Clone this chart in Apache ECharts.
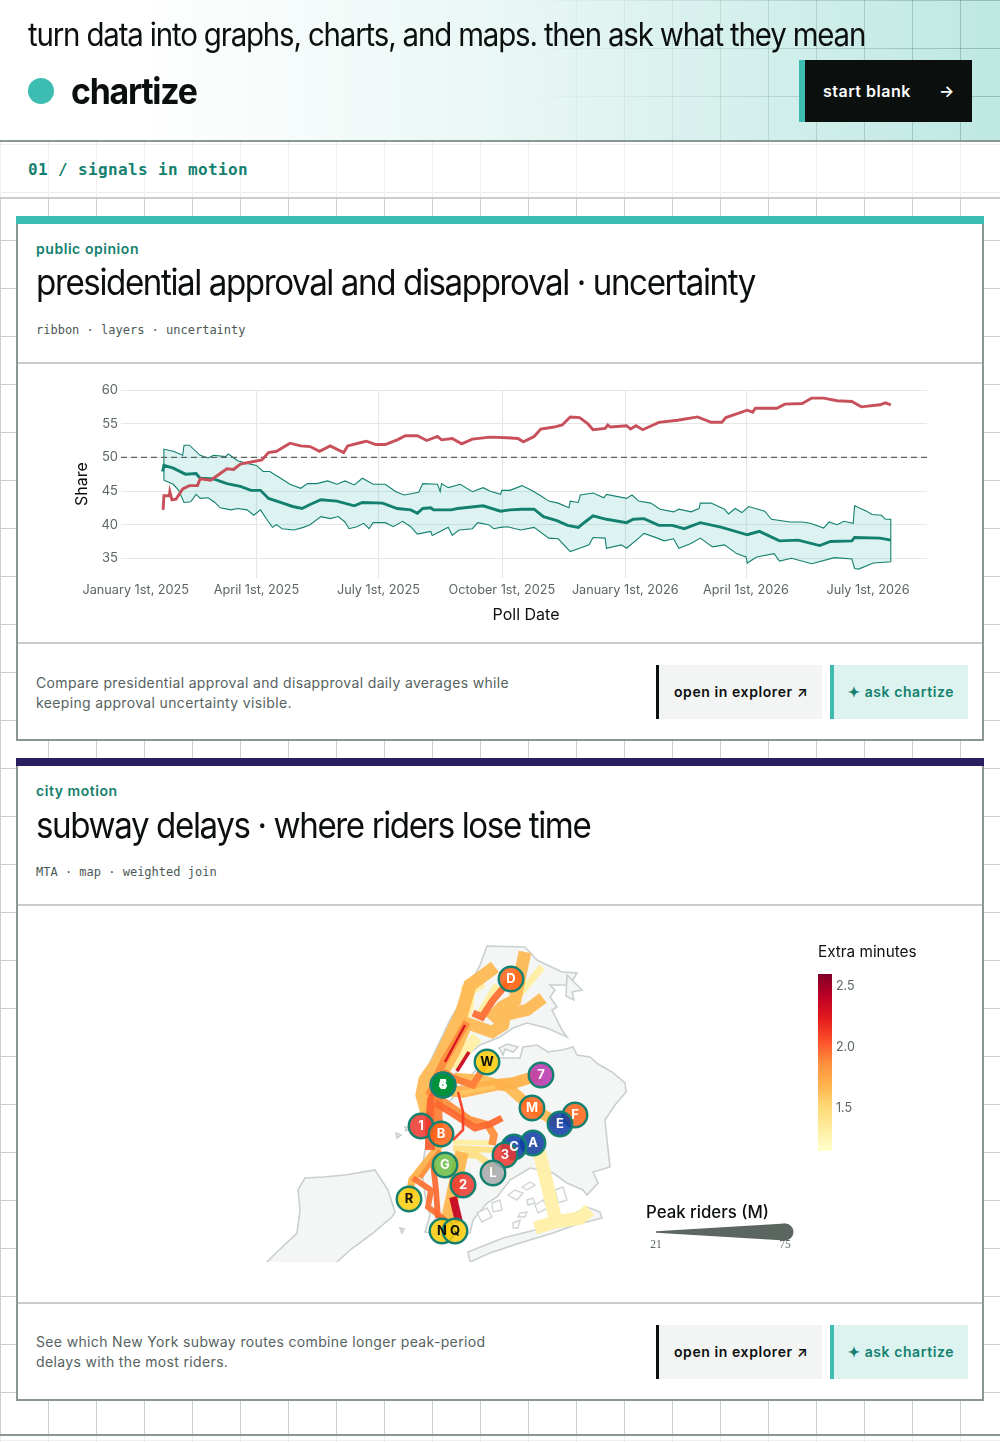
<!DOCTYPE html>
<html lang="en"><head><meta charset="utf-8"><title>chartize</title>
<script src="https://cdn.jsdelivr.net/npm/echarts@6/dist/echarts.min.js"></script>
<style>
html,body{margin:0;padding:0;background:#fff}
body{position:relative;width:1000px;height:1442px;overflow:hidden;font-family:Inter,sans-serif;color:#0b0f0e}
.abs{position:absolute}
.grid{position:absolute;left:0;width:1000px;background-image:linear-gradient(to right,var(--g) 1.5px,transparent 1.5px),linear-gradient(to bottom,var(--g) 1.5px,transparent 1.5px);background-size:48px 48px}
.hdr{left:0;top:0;width:1000px;height:140px;background:linear-gradient(90deg,#fff 14%,#e9f7f5 50%,#bfe8e3 100%)}
.hline{position:absolute;left:0;width:1000px}
.card{position:absolute;left:16px;width:968px;background:#fff;box-sizing:border-box;border:2px solid #8a9793;border-top:0}
.bar{position:absolute;left:16px;width:968px;height:8px}
.sep{position:absolute;left:18px;width:964px;height:2px;background:#c6cdcb}
.kick{position:absolute;left:36px;font-size:14px;font-weight:600;color:#14806f;line-height:18px;white-space:nowrap;letter-spacing:.55px}
.ttl{position:absolute;left:36px;font-size:36px;font-weight:400;letter-spacing:-1.52px;line-height:44px;white-space:nowrap;color:#0b0f0e;transform:scaleX(.92);transform-origin:left center}
.meta{position:absolute;left:36px;font-family:"DejaVu Sans Mono",monospace;font-size:12px;color:#4c5855;line-height:16px;white-space:pre}
.desc{position:absolute;left:36px;font-size:14px;line-height:20px;color:#56625f;letter-spacing:.35px;white-space:nowrap}
.btn{position:absolute;box-sizing:border-box;height:54px;line-height:54px;font-size:14px;font-weight:600;white-space:nowrap;letter-spacing:.58px}
.open{left:656px;width:166px;background:#f3f5f4;border-left:3px solid #0b0f0e;padding-left:15px;color:#0b0f0e}
.ask{left:830px;width:138px;background:#dcf3ef;border-left:4px solid #3dbdb1;padding-left:14px;color:#14806f}
.chart{position:absolute}
</style></head><body>
<div class="grid" style="--g:#efefef;top:0;height:1442px"></div>
<div class="abs hdr"></div>
<div class="grid" style="--g:rgba(70,110,105,.36);top:0;height:140px;-webkit-mask-image:linear-gradient(90deg,transparent 52%,#000 100%);mask-image:linear-gradient(90deg,transparent 52%,#000 100%)"></div>
<div class="hline" style="top:140px;height:2px;background:#8a9793"></div>
<div class="grid" style="--g:#c8cfcd;top:199px;height:1235px;background-position:0 -7px"></div>
<div class="hline" style="top:197px;height:2px;background:#c8cfcd"></div>
<div class="hline" style="top:1434px;height:2px;background:#8a9793"></div>

<div class="abs" style="left:28px;top:15px;font-size:32px;letter-spacing:-1.26px;line-height:40px;white-space:nowrap;transform:scaleX(.92);transform-origin:left center">turn data into graphs, charts, and maps. then ask what they mean</div>
<div class="abs" style="left:28px;top:78px;width:26px;height:26px;border-radius:50%;background:#3dbdb1"></div>
<div class="abs" style="left:70.5px;top:68px;font-size:36px;font-weight:700;letter-spacing:-1.3px;line-height:46px;transform:scaleX(.94);transform-origin:left center">chartize</div>
<div class="abs" style="left:799px;top:60px;width:173px;height:62px;box-sizing:border-box;background:#0b0f0e;border-left:6px solid #3dbdb1;color:#fff;font-size:16px;font-weight:600;line-height:62px;padding-left:18px;letter-spacing:.5px;white-space:nowrap">start blank<span class="abs" style="left:134px;top:0">→</span></div>
<div class="abs" style="left:28px;top:160px;font-family:'DejaVu Sans Mono',monospace;font-weight:700;font-size:16px;letter-spacing:.37px;color:#14806f;line-height:20px;white-space:pre">01 / signals in motion</div>

<div class="bar" style="top:216px;background:#3dbdb1"></div>
<div class="card" style="top:224px;height:517px"></div>
<div class="sep" style="top:362px"></div><div class="sep" style="top:642px"></div>
<div class="kick" style="top:240px">public opinion</div>
<div class="ttl" style="top:260px">presidential approval and disapproval · uncertainty</div>
<div class="meta" style="top:322px">ribbon · layers · uncertainty</div>
<div class="chart" id="approval" style="left:18px;top:364px;width:964px;height:278px"></div>
<div class="desc" style="top:673px">Compare presidential approval and disapproval daily averages while<br>keeping approval uncertainty visible.</div>
<div class="btn open" style="top:665px">open in explorer ↗</div>
<div class="btn ask" style="top:665px">✦ ask chartize</div>

<div class="bar" style="top:758px;background:#2a1f5f"></div>
<div class="card" style="top:766px;height:635px"></div>
<div class="sep" style="top:904px"></div><div class="sep" style="top:1302px"></div>
<div class="kick" style="top:782px">city motion</div>
<div class="ttl" style="top:803px">subway delays · where riders lose time</div>
<div class="meta" style="top:864px">MTA · map · weighted join</div>
<div class="chart" id="subway" style="left:18px;top:907px;width:964px;height:355px"></div>
<div class="desc" style="top:1332px">See which New York subway routes combine longer peak-period<br>delays with the most riders.</div>
<div class="btn open" style="top:1325px">open in explorer ↗</div>
<div class="btn ask" style="top:1325px">✦ ask chartize</div>

<script>
// ---------- Chart 1 data: [days since 2025-01-01, share %] ----------
const xTickDays = [0, 90, 181, 273, 365, 455, 546];
const xTickLabels = ['January 1st, 2025', 'April 1st, 2025', 'July 1st, 2025', 'October 1st, 2025', 'January 1st, 2026', 'April 1st, 2026', 'July 1st, 2026'];
const yTicks = [35, 40, 45, 50, 55, 60];
const approvalUpper = [[21,51.2],[28,50.9],[35,50.3],[36,51.8],[40,51.8],[48,50.3],[54,49.9],[58,50.3],[67,50.1],[69,50.5],[76,49.5],[83,49.1],[90,48.8],[95,47.9],[100,47.9],[108,46.9],[115,46.0],[123,45.4],[128,46.1],[135,46.1],[143,46.5],[150,46.0],[156,46.5],[163,45.9],[169,46.9],[177,46.0],[186,46.0],[194,44.9],[200,44.4],[211,44.8],[214,46.1],[225,46.0],[227,44.9],[228,46.1],[233,45.5],[242,46.0],[251,44.9],[259,45.5],[264,45.0],[272,44.5],[273,45.1],[279,45.1],[288,45.8],[295,45.1],[302,44.3],[308,43.5],[315,43.2],[323,42.5],[324,43.5],[330,43.3],[331.5,44.4],[341,44.7],[349,44.0],[351,44.5],[366,43.9],[370,44.4],[375,43.5],[384,43.2],[391,42.3],[401,41.9],[405,42.3],[414,41.9],[420,42.4],[421,43.2],[429,43.2],[439,42.3],[442,41.6],[447,42.4],[452,41.8],[457,42.7],[469,42.0],[474,40.8],[488,40.4],[497,40.4],[503,40.2],[513,39.5],[517,40.4],[523,40.0],[528,40.5],[535,40.2],[536,42.8],[545,42.0],[549,41.5],[556,41.4],[559,40.8],[563,40.8]];
const approvalLower = [[21,46.6],[28,46.0],[32,45.1],[36,43.3],[41,43.4],[45,44.5],[48,43.9],[54,44.0],[59,43.3],[63,42.5],[71,42.2],[76,42.4],[83,42.2],[88,41.4],[93,42.2],[98,40.7],[102,39.6],[105,40.0],[109,39.4],[118,39.2],[125,39.6],[130,40.0],[138,41.2],[145,40.9],[151,41.2],[156,40.4],[159,39.4],[165,39.7],[170,40.2],[174,39.4],[177,40.3],[186,40.3],[192,39.7],[199,40.5],[205,39.7],[210,38.6],[220,39.0],[221,38.4],[227,39.0],[233,39.6],[236,38.4],[241,39.2],[251,39.4],[255,40.3],[263,40.0],[267,39.4],[272,39.6],[277,39.7],[287,39.2],[297,39.6],[308,38.0],[315,37.9],[324,36.0],[331,36.5],[338,37.0],[341,38.1],[350,38.0],[351,36.5],[362,37.0],[366,36.5],[375,38.0],[379,38.7],[389,38.0],[394,37.6],[401,37.9],[405,36.5],[414,37.2],[421,38.0],[430,36.7],[439,37.0],[448,35.7],[455,35.2],[456,34.3],[463,35.2],[476,35.7],[480,34.6],[489,35.0],[504,34.2],[521,35.1],[534,34.9],[536,33.5],[539,33.4],[550,34.3],[563,34.5]];
const approvalMean = [[20,47.9],[21,48.8],[28,48.4],[37,47.5],[45,47.6],[48,46.9],[58,46.8],[68,46.1],[78,45.7],[86,45.1],[93,45.1],[99,43.9],[108,43.3],[117,42.7],[124,42.4],[130,43.0],[138,43.7],[150,43.5],[163,42.8],[169,43.3],[184,43.2],[195,42.4],[205,42.2],[210,41.7],[214,42.4],[220,42.5],[222,42.2],[235,42.2],[240,42.4],[259,42.8],[272,42.0],[279,42.2],[288,42.3],[297,42.3],[304,41.2],[314,40.6],[322,39.9],[330,39.6],[335,40.4],[341,41.3],[351,40.8],[366,40.3],[371,40.8],[379,40.9],[390,39.9],[400,39.9],[409,39.4],[421,40.3],[437,39.6],[456,38.5],[465,39.0],[480,37.6],[494,37.7],[510,36.9],[518,37.5],[534,37.6],[536,38.1],[555,38.0],[563,37.7]];
const disapprovalMean = [[20.4,42.2],[21,44.3],[25,44.3],[25.4,44.9],[27,43.7],[30,43.8],[35,45.3],[40,45.8],[46,45.8],[48,46.8],[56,46.6],[63,47.6],[68,48.3],[73,48.2],[78,49.0],[86,49.3],[94,49.6],[99,50.7],[105,50.9],[115,52.1],[123,51.7],[130,51.6],[137,50.9],[145,51.7],[155,50.7],[158,51.7],[168,52.2],[172,52.4],[179,51.9],[186,51.9],[195,52.6],[201,53.2],[210,53.2],[217,52.5],[225,53.1],[228,52.6],[236,52.8],[243,52.0],[251,52.7],[264,53.0],[277,52.9],[285,52.8],[289,52.3],[297,53.1],[302,54.2],[312,54.5],[318,54.8],[324,56.0],[331,55.9],[337,55.0],[341,54.1],[350,54.3],[352,54.8],[354,54.5],[366,54.7],[369,54.2],[373,54.7],[378,54.1],[390,55.2],[404,55.5],[419,56.0],[429,55.2],[437,55.2],[440,55.9],[456,57.0],[460,56.7],[462,57.3],[478,57.3],[484,57.9],[497,58.0],[504,58.8],[513,58.8],[523,58.4],[534,58.3],[541,57.5],[555,57.8],[559,58.1],[563,57.8]];
const referenceLevel = 50;
const dayDomain = [-11, 590];
const shareDomain = [32.08, 60];

// ---------- Chart 2 data ----------
const routeNames = ['A','A','A','A','C','C','C','L','L','5','6','1','E','7','N','J','R','C','D','W','B','M','J','G','4','6','Q','N','D','R'];
const routeMinutes = [1.30,1.30,1.30,1.30,1.33,1.33,1.33,1.45,1.45,1.66,1.66,1.66,1.66,1.70,1.68,1.60,1.70,1.87,1.96,1.92,2.0,1.9,1.98,2.1,2.35,2.3,2.38,1.95,1.98,1.87];
const routeRiders = [62,62,56,64,40,40,34,36,40,60,58,62,52,56,62,30,42,42,40,40,50,46,40,25,28,24,43,36,36,32];
const routePaths = [
 [[-73.8485,40.6545],[-73.838,40.6389],[-73.8155,40.5583]],
 [[-73.8455,40.544],[-73.8155,40.5518],[-73.778,40.557],[-73.763,40.5674]],
 [[-73.9325,40.7923],[-73.97,40.7533]],
 [[-73.925,40.8651],[-73.946,40.8534],[-73.9475,40.8313],[-73.9535,40.8196]],
 [[-73.835,40.8833],[-73.8755,40.8404]],
 [[-73.9025,40.8599],[-73.928,40.8235]],
 [[-73.9685,40.6558],[-73.91,40.6545]],
 [[-73.9685,40.648],[-73.9085,40.6454]],
 [[-73.9535,40.6389],[-73.9325,40.6389],[-73.913,40.6259],[-73.9085,40.6155]],
 [[-73.8605,40.9028],[-73.8755,40.8404],[-73.895,40.8313],[-73.913,40.8144]],
 [[-73.8335,40.843],[-73.8575,40.8274],[-73.8905,40.8209],[-73.8935,40.8079],[-73.91,40.7988],[-73.9475,40.8105],[-73.9655,40.7754],[-73.988,40.739],[-74.003,40.7104],[-74.006,40.6909]],
 [[-73.9055,40.8833],[-73.928,40.869],[-73.943,40.8599],[-73.955,40.8248],[-73.9775,40.7845],[-73.9925,40.7585],[-74.0105,40.7364],[-74.015,40.7169],[-74.0075,40.6935]],
 [[-73.808,40.6792],[-73.85,40.7],[-73.886,40.7273],[-73.928,40.7364],[-73.9655,40.739]],
 [[-73.838,40.7429],[-73.8785,40.7325],[-73.9055,40.7299],[-73.9535,40.7208],[-73.9805,40.7234]],
 [[-73.955,40.6428],[-73.979,40.5453]],
 [[-73.9655,40.7182],[-73.9055,40.7273]],
 [[-74.0345,40.5817],[-74.03,40.6064],[-74,40.6389],[-73.988,40.6519]],
 [[-74.0075,40.7234],[-73.943,40.6844],[-73.916,40.6779],[-73.907,40.6649],[-73.91,40.6519]],
 [[-73.8815,40.8677],[-73.9085,40.8404],[-73.925,40.8183],[-73.9385,40.8235]],
 [[-73.9175,40.7598],[-73.9385,40.7299],[-73.961,40.7364],[-73.9835,40.7468]],
 [[-73.988,40.7299],[-74,40.7104],[-74.003,40.6779],[-74.003,40.6454]],
 [[-73.991,40.7169],[-73.991,40.6909],[-73.988,40.6584]],
 [[-73.9955,40.7065],[-73.97,40.6935],[-73.9355,40.674],[-73.913,40.6792],[-73.895,40.687]],
 [[-73.961,40.7208],[-73.9535,40.6948],[-73.9535,40.6714],[-73.9685,40.6584]],
 [[-73.9445,40.7728],[-73.9625,40.7481]],
 [[-73.9505,40.8079],[-73.9805,40.7598]],
 [[-73.9685,40.5843],[-73.9595,40.5518]],
 [[-74.0285,40.609],[-74.0015,40.5934],[-74.006,40.5713],[-73.9805,40.5544]],
 [[-73.9985,40.6285],[-73.994,40.5934],[-73.991,40.557]],
 [[-74.018,40.609],[-73.988,40.6454]]
];
// Upper-Manhattan trunk drawn after the light routes
const trunkPath = [[-73.9475,40.8118],[-73.9835,40.7585],[-73.994,40.739]];
const trunkMinutes = 1.88, trunkRiders = 42;

const badgeNames = ['D','W','7','4','5','6','M','F','E','1','B','A','C','3','L','G','2','R','N','Q'];
const badgeCoords = [[-73.8815,40.8677],[-73.9175,40.7598],[-73.8365,40.7429],[-73.9835,40.7299],[-73.9835,40.7299],[-73.9835,40.7299],[-73.85,40.7],[-73.7855,40.6909],[-73.808,40.6792],[-74.0165,40.6766],[-73.9865,40.6662],[-73.8485,40.6545],[-73.877,40.6493],[-73.8905,40.6389],[-73.9085,40.6155],[-73.9805,40.6259],[-73.9535,40.5999],[-74.0345,40.5817],[-73.985,40.5401],[-73.9655,40.5401]];
const badgeColors = ['#ff6319','#fccc0a','#b933ad','#00933c','#00933c','#00933c','#ff6319','#ff6319','#0f3ba8','#ee352e','#ff6319','#0f3ba8','#0f3ba8','#ee352e','#a7a9ac','#6cbe45','#ee352e','#fccc0a','#fccc0a','#fccc0a'];
const darkLabelBadges = ['W','R','N','Q'];

const land = {
 'Staten Island': [[-74.255,40.4894],[-74.2475,40.4998],[-74.2325,40.5128],[-74.2025,40.5375],[-74.198,40.5674],[-74.201,40.5934],[-74.1905,40.609],[-74.1635,40.6103],[-74.1305,40.6129],[-74.0855,40.6194],[-74.066,40.5934],[-74.0555,40.5648],[-74.06,40.5583],[-74.0885,40.5375],[-74.123,40.5154],[-74.1425,40.4998],[-74.153,40.4894]],
 'Bronx and Manhattan': [[-73.9175,40.9106],[-73.8605,40.9093],[-73.8425,40.8924],[-73.805,40.8768],[-73.7825,40.8755],[-73.793,40.8599],[-73.823,40.8599],[-73.8155,40.8534],[-73.823,40.8443],[-73.8125,40.8313],[-73.82,40.8274],[-73.805,40.8014],[-73.7975,40.7923],[-73.8275,40.804],[-73.8575,40.8105],[-73.8785,40.804],[-73.898,40.7923],[-73.928,40.7819],[-73.955,40.7624],[-73.976,40.7234],[-74,40.7143],[-74.0135,40.739],[-74.0015,40.7624],[-73.973,40.8144],[-73.9535,40.843],[-73.928,40.8859]],
 'Brooklyn and Queens': [[-73.931,40.752],[-73.913,40.765],[-73.8905,40.765],[-73.868,40.765],[-73.8635,40.7793],[-73.8425,40.7819],[-73.826,40.7728],[-73.805,40.7754],[-73.7885,40.7793],[-73.7825,40.7689],[-73.763,40.7663],[-73.751,40.7572],[-73.73,40.7468],[-73.7105,40.7325],[-73.709,40.7208],[-73.7255,40.7039],[-73.7405,40.6844],[-73.7375,40.6584],[-73.733,40.6233],[-73.7585,40.6168],[-73.751,40.6025],[-73.7675,40.5869],[-73.7735,40.5934],[-73.7975,40.6025],[-73.8185,40.6155],[-73.853,40.622],[-73.883,40.6064],[-73.9025,40.5843],[-73.9175,40.5765],[-73.9385,40.5544],[-73.943,40.5375],[-73.9805,40.5336],[-74.0105,40.5388],[-74.003,40.5609],[-74.0105,40.5869],[-74.015,40.6194],[-74.0105,40.6454],[-74.003,40.6779],[-73.9775,40.7039],[-73.955,40.7299]],
 'Rockaway': [[-73.943,40.4998],[-73.946,40.5128],[-73.8935,40.531],[-73.8455,40.5414],[-73.8005,40.557],[-73.7675,40.5713],[-73.748,40.5648],[-73.745,40.557],[-73.7855,40.5479],[-73.8185,40.5375],[-73.868,40.5245],[-73.913,40.5115]],
 'Bay 1': [[-73.886,40.5869],[-73.8755,40.5934],[-73.8635,40.5895],[-73.8725,40.5804]],
 'Bay 2': [[-73.865,40.5973],[-73.853,40.6038],[-73.8455,40.5999],[-73.8575,40.5934]],
 'Bay 3': [[-73.868,40.5635],[-73.8575,40.5648],[-73.8605,40.5583],[-73.871,40.5583]],
 'Bay 4': [[-73.8455,40.5739],[-73.8335,40.5804],[-73.826,40.57],[-73.841,40.5635]],
 'Bay 5': [[-73.8785,40.5505],[-73.868,40.5544],[-73.871,40.544],[-73.8785,40.544]],
 'Bay 6': [[-73.8155,40.5934],[-73.8035,40.5973],[-73.7975,40.5804],[-73.811,40.5765]],
 'Bay 7': [[-73.8575,40.5804],[-73.8485,40.583],[-73.8455,40.5765],[-73.856,40.5739]],
 'Bay 8': [[-73.9325,40.5635],[-73.9175,40.57],[-73.91,40.5583],[-73.925,40.5518]],
 'Bay 9': [[-73.91,40.5765],[-73.898,40.5804],[-73.895,40.5674],[-73.9085,40.5648]],
 'Liberty': [[-74.054,40.6675],[-74.0465,40.6649],[-74.0525,40.661]],
 'Ellis': [[-74.0405,40.6753],[-74.033,40.674],[-74.039,40.6701]],
 'Hoffman': [[-74.048,40.544],[-74.042,40.5427],[-74.045,40.5375]],
 'City Island': [[-73.7975,40.8729],[-73.7825,40.8599],[-73.775,40.8534],[-73.79,40.8508],[-73.787,40.8404],[-73.799,40.8456]],
 'Rikers': [[-73.8995,40.778],[-73.8875,40.7832],[-73.871,40.7793],[-73.8785,40.7728],[-73.8905,40.7767],[-73.8935,40.7689]]
};
const bayIslands = ['Bay 1','Bay 2','Bay 3','Bay 4','Bay 5','Bay 6','Bay 7','Bay 8','Bay 9'];
const mapBounds = [[-74.2475,40.9106],[-73.709,40.4998]];

const minutesColorStops = ['#ffffcc','#ffeda0','#fed976','#feb24c','#fd8d3c','#fc4e2a','#e31a1c','#bd0026','#800026'];
const minutesDomain = [1.15, 2.6];
const minutesTicks = [1.5, 2.0, 2.5];
const ridersDomain = [21, 75];

// ---------- Helpers ----------
const inkGray = '#5b6663', font = 'Inter, sans-serif';
const ridersWidth = r => 1.5 + (r - ridersDomain[0]) / (ridersDomain[1] - ridersDomain[0]) * 15.5;
const minutesColor = m => echarts.color.lerp((m - minutesDomain[0]) / (minutesDomain[1] - minutesDomain[0]), minutesColorStops);

// ---------- Chart 1 ----------
const bandPts = approvalUpper.concat(approvalLower.slice().reverse());
const c1 = echarts.init(document.getElementById('approval'), null, {renderer: 'canvas'});
c1.setOption({
  animation: false,
  textStyle: {fontFamily: font},
  grid: {left: 103, top: 26, width: 806, height: 188},
  xAxis: {
    type: 'value', min: dayDomain[0], max: dayDomain[1],
    name: 'Poll Date', nameLocation: 'middle', nameGap: 29,
    nameTextStyle: {color: '#0b0f0e', fontSize: 16, fontFamily: font, padding: [0, 0, 0, 4]},
    axisLine: {show: false},
    axisTick: {show: false, customValues: xTickDays},
    splitLine: {show: true, showMinLine: false, showMaxLine: false, lineStyle: {color: '#e3e8e6', width: 1.2}},
    axisLabel: {
      customValues: xTickDays, color: inkGray, fontSize: 12.7, fontFamily: font, margin: 6, hideOverlap: false,
      formatter: v => xTickLabels[xTickDays.indexOf(+v)] || ''
    }
  },
  yAxis: {
    type: 'value', min: shareDomain[0], max: shareDomain[1],
    name: 'Share', nameLocation: 'middle', nameGap: 30,
    nameTextStyle: {color: '#0b0f0e', fontSize: 16, fontFamily: font},
    axisLine: {show: false},
    axisTick: {show: false, customValues: yTicks},
    splitLine: {show: true, lineStyle: {color: '#e3e8e6', width: 1.2}},
    axisLabel: {customValues: yTicks, color: inkGray, fontSize: 13, fontFamily: font, margin: 3, padding: [2, 0, 0, 0]}
  },
  series: [
    {
      type: 'custom', name: 'Approval interval', data: bandPts, encode: {x: 0, y: 1}, clip: false, z: 2,
      renderItem: (params, api) => {
        if (params.dataIndex !== 0) return null;
        return {type: 'polygon', shape: {points: bandPts.map(p => api.coord(p))},
          style: {fill: 'rgba(61,189,177,0.18)', stroke: '#14806f', lineWidth: 1.1, lineJoin: 'miter'}};
      }
    },
    {type: 'line', name: 'Reference', data: [[dayDomain[0], referenceLevel], [dayDomain[1], referenceLevel]], symbol: 'none', z: 3,
      lineStyle: {color: '#5b6663', width: 1.1, type: [6, 4]}},
    {type: 'line', name: 'Approval', data: approvalMean, symbol: 'none', z: 4, lineStyle: {color: '#14806f', width: 2.9, join: 'miter'}},
    {type: 'line', name: 'Disapproval', data: disapprovalMean, symbol: 'none', z: 4, lineStyle: {color: '#c8505a', width: 2.9, join: 'miter'}}
  ]
});

// ---------- Chart 2 ----------
echarts.registerMap('nyc', {type: 'FeatureCollection', features: Object.keys(land).map(name => ({
  type: 'Feature', properties: {name}, geometry: {type: 'Polygon', coordinates: [land[name].concat([land[name][0]])]}
}))});
const routeItem = (path, m, r, name) => ({name, coords: path, lineStyle: {color: minutesColor(m), width: ridersWidth(r), opacity: 0.95, cap: 'butt', join: 'miter'}});
const routeData = routePaths.map((p, i) => routeItem(p, routeMinutes[i], routeRiders[i], routeNames[i]));
routeData.splice(17, 0, routeItem(trunkPath, trunkMinutes, trunkRiders, 'D'));

const c2 = echarts.init(document.getElementById('subway'), null, {renderer: 'canvas'});
c2.setOption({
  animation: false,
  textStyle: {fontFamily: font},
  title: [
    {text: 'Extra minutes', left: 800, top: 38, padding: 0, textStyle: {fontSize: 15.3, fontWeight: 400, color: '#0b0f0e', fontFamily: font}},
    {text: 'Peak riders (M)', left: 628, top: 297, padding: 0, textStyle: {fontSize: 16.8, fontWeight: 500, color: '#0b0f0e', fontFamily: font}}
  ],
  geo: {
    map: 'nyc', roam: false, silent: true, aspectScale: 0.0013 / 0.0015,
    boundingCoords: mapBounds, left: 249, top: 39, width: 359, height: 316,
    label: {show: false},
    itemStyle: {areaColor: '#f4f6f5', borderColor: '#c9d0ce', borderWidth: 1.6},
    regions: bayIslands.map(name => ({name, itemStyle: {areaColor: '#fcfdfc', borderColor: '#d0d6d4', borderWidth: 1.4}})),
    emphasis: {disabled: true}
  },
  grid: [
    {left: 800, top: 67, width: 14, height: 177},
    {left: 638, top: 320, width: 129, height: 10}
  ],
  xAxis: [
    {gridIndex: 0, type: 'value', min: 0, max: 1, show: false},
    {gridIndex: 1, type: 'value', min: ridersDomain[0], max: ridersDomain[1],
      axisLine: {show: false}, splitLine: {show: false}, axisTick: {show: false, customValues: ridersDomain},
      axisLabel: {customValues: ridersDomain, color: inkGray, fontSize: 11.5, fontFamily: '"Liberation Serif", serif', margin: 2, hideOverlap: false}}
  ],
  yAxis: [
    {gridIndex: 0, type: 'value', min: minutesDomain[0], max: minutesDomain[1], position: 'right',
      axisLine: {show: false}, splitLine: {show: false}, axisTick: {show: false, customValues: minutesTicks},
      axisLabel: {customValues: minutesTicks, color: inkGray, fontSize: 12.5, fontFamily: font, margin: 4, padding: [2, 0, 0, 0], formatter: v => (+v).toFixed(1)}},
    {gridIndex: 1, type: 'value', min: 0, max: 1, show: false}
  ],
  series: [
    {type: 'lines', coordinateSystem: 'geo', polyline: true, silent: true, z: 3, lineStyle: {opacity: 0.95}, data: routeData},
    {
      type: 'scatter', coordinateSystem: 'geo', z: 5, symbol: 'circle', symbolSize: 24.5, silent: true,
      data: badgeNames.map((n, i) => {
        const c = echarts.color.modifyAlpha(badgeColors[i], 0.86);
        return {name: n, value: badgeCoords[i], itemStyle: {color: c, borderColor: '#14806f', borderWidth: 2.4, opacity: 1},
          label: {show: true, position: 'inside', formatter: n, fontFamily: font, fontWeight: 700, fontSize: 13,
            color: darkLabelBadges.includes(n) ? '#0b0f0e' : '#fff'}};
      })
    },
    {
      type: 'custom', name: 'Extra minutes scale', xAxisIndex: 0, yAxisIndex: 0, clip: false, silent: true, encode: {x: 0, y: 1},
      data: [[0, minutesDomain[0]], [1, minutesDomain[1]]],
      renderItem: (params, api) => {
        if (params.dataIndex !== 0) return null;
        const a = api.coord([0, minutesDomain[1]]), b = api.coord([1, minutesDomain[0]]);
        return {type: 'rect', shape: {x: a[0], y: a[1], width: b[0] - a[0], height: b[1] - a[1]},
          style: {fill: new echarts.graphic.LinearGradient(0, 1, 0, 0, minutesColorStops.map((color, i) => ({offset: i / (minutesColorStops.length - 1), color})))}};
      }
    },
    {
      type: 'custom', name: 'Peak riders scale', xAxisIndex: 1, yAxisIndex: 1, clip: false, silent: true, encode: {x: 0, y: 1},
      data: ridersDomain.map(r => [r, 0.5]),
      renderItem: (params, api) => {
        if (params.dataIndex !== 0) return null;
        const a = api.coord([ridersDomain[0], 0.5]), b = api.coord([ridersDomain[1], 0.5]);
        const wa = ridersWidth(ridersDomain[0]) / 2, wb = ridersWidth(ridersDomain[1]) / 2;
        return {type: 'group', children: [
          {type: 'polygon', shape: {points: [[a[0], a[1] - wa], [b[0], b[1] - wb], [b[0], b[1] + wb], [a[0], a[1] + wa]]}, style: {fill: '#5c6661'}},
          {type: 'circle', shape: {cx: b[0], cy: b[1], r: wb}, style: {fill: '#5c6661'}}
        ]};
      }
    }
  ]
});
</script>
</body></html>
